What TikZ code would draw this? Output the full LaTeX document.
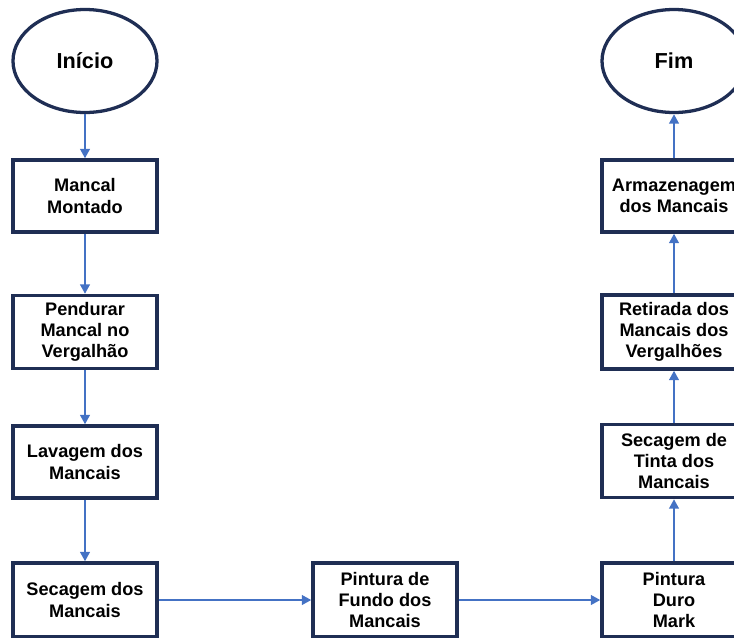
\documentclass[tikz,border=0pt]{standalone}
\usepackage{fontspec}
\setmainfont{Liberation Sans}
\usetikzlibrary{shapes.geometric,arrows.meta}

\definecolor{boxline}{RGB}{31,46,84}
\definecolor{flowblue}{RGB}{68,114,196}

\begin{document}
\begin{tikzpicture}[x=0.03cm,y=-0.03cm,line join=miter,
  etapa/.style={draw=boxline,line width=2.8pt,fill=white,minimum width=4.32cm,
    minimum height=2.16cm,align=center,font=\fontsize{15.5}{18}\selectfont\bfseries,inner sep=1pt},
  terminal/.style={ellipse,draw=boxline,line width=2.8pt,fill=white,minimum width=4.32cm,
    minimum height=3.09cm,font=\fontsize{18.5}{21}\selectfont\bfseries},
  fluxo/.style={draw=flowblue,line width=2.2pt,-{Triangle[length=8pt,width=8pt]}}]
  \useasboundingbox (0,0) rectangle (734,637);
  % coluna da esquerda
  \node[terminal] (inicio) at (85,61) {Início};
  \node[etapa] (montado) at (85,196) {Mancal\\Montado};
  \node[etapa,minimum height=2.19cm] (pendurar) at (85,332) {Pendurar\\Mancal no\\Vergalhão};
  \node[etapa] (lavagem) at (85,462) {Lavagem dos\\Mancais};
  \node[etapa,minimum height=2.22cm] (secagem) at (85,600) {Secagem dos\\Mancais};
  % meio
  \node[etapa,minimum height=2.22cm] (fundo) at (385,600) {Pintura de\\Fundo dos\\Mancais};
  % coluna da direita
  \node[etapa,minimum height=2.22cm] (duro) at (674,600) {Pintura\\Duro\\Mark};
  \node[etapa,minimum height=2.19cm] (tinta) at (674,461) {Secagem de\\Tinta dos\\Mancais};
  \node[etapa,minimum height=2.22cm] (retirada) at (674,332) {Retirada dos\\Mancais dos\\Vergalhões};
  \node[etapa] (armazen) at (674,196) {Armazenagem\\dos Mancais};
  \node[terminal] (fim) at (674,61) {Fim};
  % ligacoes
  \draw[fluxo] (inicio) -- (montado);
  \draw[fluxo] (montado) -- (pendurar);
  \draw[fluxo] (pendurar) -- (lavagem);
  \draw[fluxo] (lavagem) -- (secagem);
  \draw[fluxo] (secagem) -- (fundo);
  \draw[fluxo] (fundo) -- (duro);
  \draw[fluxo] (duro) -- (tinta);
  \draw[fluxo] (tinta) -- (retirada);
  \draw[fluxo] (retirada) -- (armazen);
  \draw[fluxo] (armazen) -- (fim);
\end{tikzpicture}
\end{document}
